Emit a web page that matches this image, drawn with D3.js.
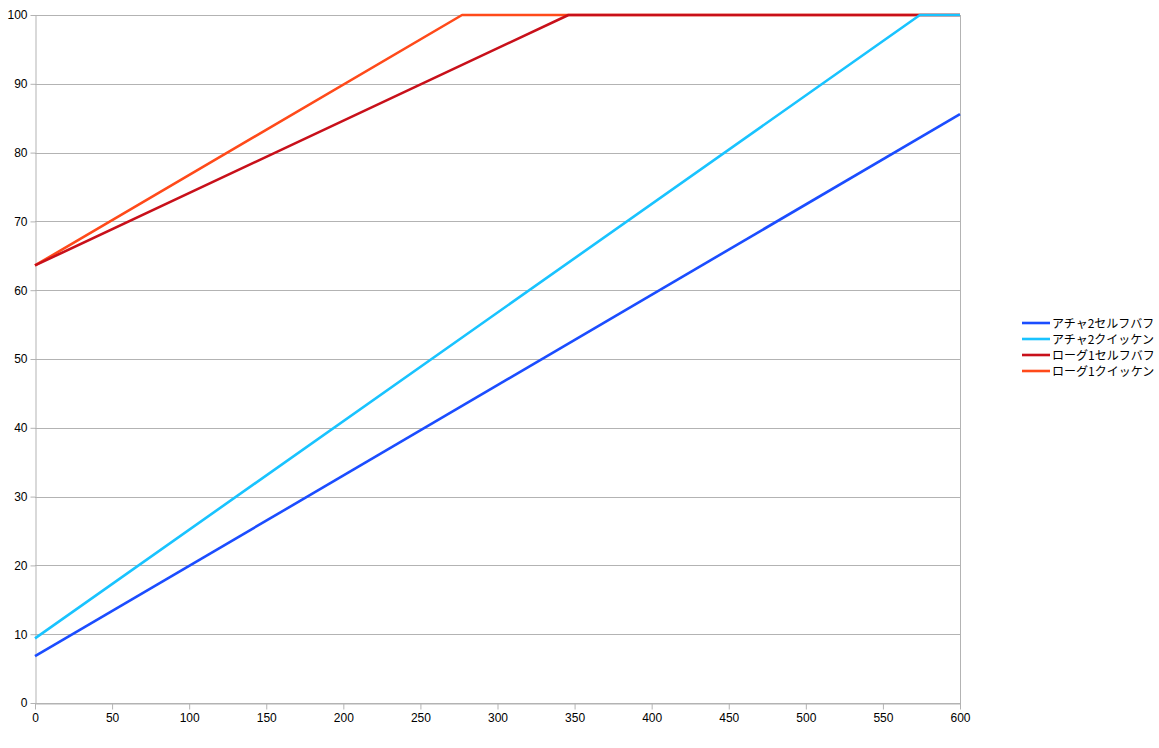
<!DOCTYPE html>
<html><head><meta charset="utf-8">
<script src="https://cdn.jsdelivr.net/npm/d3@7"></script>
<style>body{margin:0;background:#fff}svg{display:block}</style>
</head><body><svg id="c" width="1159" height="748"></svg>
<script>
const seriesNames = ["アチャ2セルフバフ","アチャ2クイッケン","ローグ1セルフバフ","ローグ1クイッケン"];
const seriesColors = ["#1b4dff","#19c3ff","#c8101a","#ff4a1a"];
const archer2SelfX = [0, 600];
const archer2SelfY = [6.8, 85.6];
const archer2QuickX = [0, 574, 600];
const archer2QuickY = [9.4, 100, 100];
const rogue1SelfX = [0, 346, 600];
const rogue1SelfY = [63.6, 100, 100];
const rogue1QuickX = [0, 277, 600];
const rogue1QuickY = [63.6, 100, 100];
const xTicks = [0,50,100,150,200,250,300,350,400,450,500,550,600];
const yTicks = [0,10,20,30,40,50,60,70,80,90,100];

const seriesX = [archer2SelfX, archer2QuickX, rogue1SelfX, rogue1QuickX];
const seriesY = [archer2SelfY, archer2QuickY, rogue1SelfY, rogue1QuickY];

const svg = d3.select("#c");
const L = 35, R = 960, T = 15, B = 703;
const x = d3.scaleLinear().domain([0,600]).range([L,R]);
const y = d3.scaleLinear().domain([0,100]).range([B,T]);
const font = "'Liberation Sans', Arial, sans-serif";

// grid
svg.append("g").selectAll("line").data(yTicks).join("line")
  .attr("x1", L).attr("x2", R)
  .attr("y1", d => Math.round(y(d))+0.5).attr("y2", d => Math.round(y(d))+0.5)
  .attr("stroke", "#b3b3b3").attr("stroke-width", 1);
// right border
svg.append("line").attr("x1", R+0.5).attr("x2", R+0.5).attr("y1", T).attr("y2", B+6)
  .attr("stroke", "#b3b3b3");

// y axis
const ya = svg.append("g").attr("transform", `translate(${L+0.5},0)`)
  .call(d3.axisLeft(y).tickValues(yTicks).tickSize(5).tickPadding(3).tickSizeOuter(0));
ya.select(".domain").attr("stroke", "#b3b3b3");
ya.selectAll(".tick line").attr("stroke", "#b3b3b3");
ya.selectAll("text").attr("font-family", font).attr("font-size", 12).attr("fill", "#000");

// x axis
const xa = svg.append("g").attr("transform", `translate(0,${B+0.5})`)
  .call(d3.axisBottom(x).tickValues(xTicks).tickSize(6).tickPadding(4).tickSizeOuter(0));
xa.select(".domain").attr("stroke", "#b3b3b3");
xa.selectAll(".tick line").attr("stroke", "#b3b3b3");
xa.selectAll("text").attr("font-family", font).attr("font-size", 12).attr("fill", "#000");

// lines (drawn in reverse order)
const line = d3.line().x(d => x(d[0])).y(d => y(d[1]));
[3,2,1,0].forEach(i => {
  const pts = seriesX[i].map((v,j) => [v, seriesY[i][j]]);
  svg.append("path").attr("d", line(pts)).attr("fill","none")
    .attr("stroke", seriesColors[i]).attr("stroke-width", 2.6)
    .attr("stroke-linejoin","round");
});

// legend
const lg = svg.append("g");
seriesNames.forEach((n,i) => {
  const yy = 323 + i*16;
  lg.append("line").attr("x1",1022).attr("x2",1050).attr("y1",yy).attr("y2",yy)
    .attr("stroke", seriesColors[i]).attr("stroke-width", 2.6);
  lg.append("text").attr("x",1052).attr("y",yy+4.5).text(n)
    .attr("font-family","'Noto Sans CJK JP', sans-serif").attr("font-size",12).attr("fill","#000");
});
</script></body></html>
